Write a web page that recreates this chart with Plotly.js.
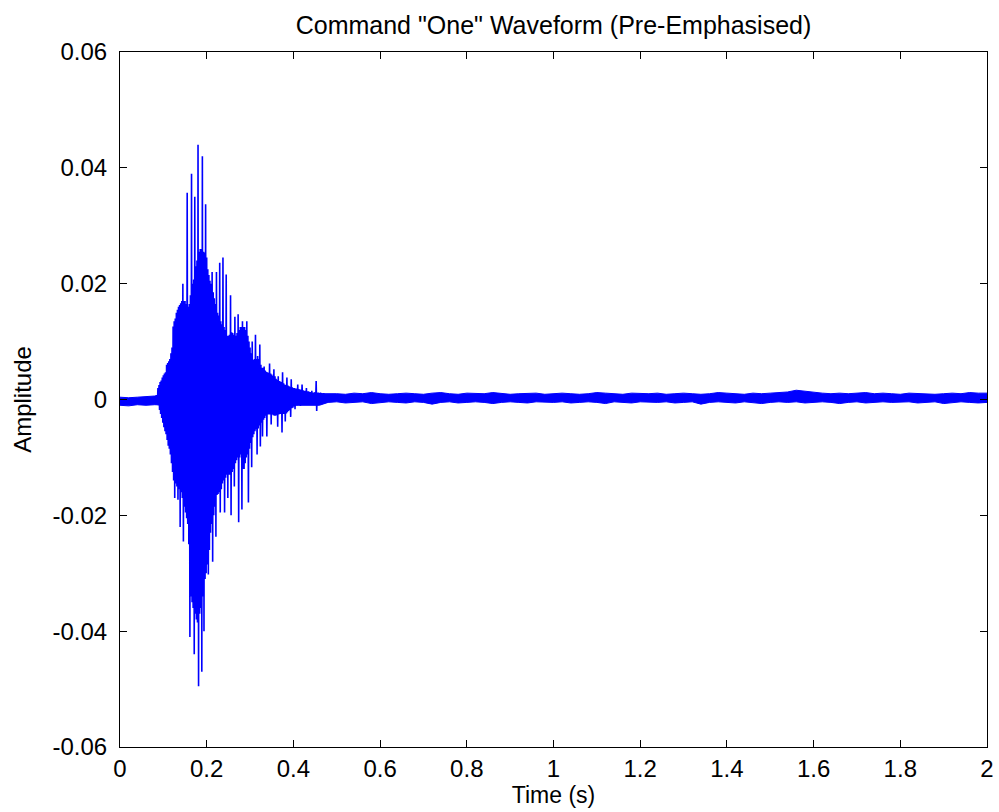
<!DOCTYPE html>
<html>
<head>
<meta charset="utf-8">
<script src="https://cdn.plot.ly/plotly-3.0.1.min.js"></script>
<style>
  html, body { margin: 0; padding: 0; background: #ffffff; }
  #chart { width: 999px; height: 812px; }
</style>
</head>
<body>
<div id="chart"></div>
<script>
// ---- Data (amplitudes in thousandths) ----
// Burst (voiced "One"): sampled every 2.5 ms from 0.08 s; upper / lower excursion per sample
const burstStart = 0.08;
const burstStep = 0.0025;
const burstUpperMilli = [
  0.6, 0.6, 0.6, 2.0, 2.5, 3.0, 3.3, 3.8, 4.2, 4.5,
  4.7, 6.0, 6.3, 6.6, 7.0, 8.0, 9.0, 12.6, 13.5, 14.0,
  15.0, 15.5, 16.0, 16.3, 16.6, 17.0, 20.0, 17.0, 17.0, 16.5,
  35.7, 16.0, 16.5, 18.0, 39.0, 20.0, 20.7, 35.0, 23.0, 24.0,
  44.0, 25.5, 26.0, 26.0, 42.0, 25.5, 25.4, 33.7, 24.5, 22.5,
  21.5, 20.5, 20.0, 22.0, 18.5, 17.5, 16.5, 22.0, 15.0, 14.5,
  23.6, 13.5, 13.0, 24.5, 12.5, 12.0, 21.6, 11.0, 11.0, 11.2,
  18.0, 11.6, 11.5, 11.2, 14.3, 11.0, 11.5, 14.7, 12.0, 12.5,
  12.5, 13.5, 12.5, 12.5, 12.0, 13.5, 11.0, 10.0, 9.0, 8.0,
  10.0, 6.8, 7.0, 11.2, 7.0, 7.5, 7.0, 9.5, 6.0, 5.5,
  5.5, 5.7, 5.0, 4.8, 4.7, 4.6, 6.2, 4.5, 4.3, 4.1,
  5.2, 4.0, 3.6, 3.4, 4.0, 3.2, 3.1, 3.0, 4.7, 2.8,
  2.6, 2.5, 3.8, 2.4, 2.3, 2.2, 3.5, 2.1, 2.0, 2.0,
  1.9, 1.9, 2.6, 1.8, 1.7, 1.7, 2.6, 1.6, 1.5, 1.5,
  2.0, 1.4, 1.4, 1.3, 1.3, 1.5, 1.2, 1.2, 1.3, 3.2,
  1.2, 1.2, 1.1, 1.2, 1.1, 1.0, 1.1
];
const burstLowerMilli = [
  -0.8, -0.8, -0.8, -1.0, -1.8, -2.5, -3.2, -4.0, -4.8, -5.5,
  -6.0, -7.0, -8.0, -8.5, -9.5, -11.0, -12.5, -14.0, -17.0, -14.5,
  -15.0, -17.3, -15.5, -22.0, -16.0, -17.0, -24.5, -18.5, -19.5, -20.5,
  -21.5, -25.0, -41.0, -34.0, -35.0, -36.0, -44.0, -37.0, -38.0, -38.5,
  -49.5, -37.0, -36.0, -47.0, -34.0, -40.0, -31.0, -30.0, -28.5, -30.2,
  -26.0, -23.0, -21.5, -28.0, -20.0, -18.5, -23.7, -16.5, -16.3, -16.0,
  -19.5, -15.5, -14.5, -14.0, -19.5, -13.5, -13.0, -17.0, -13.0, -13.0,
  -20.0, -12.5, -12.0, -15.0, -11.0, -10.5, -10.0, -21.2, -10.0, -9.5,
  -19.0, -12.0, -12.0, -11.0, -10.0, -9.5, -17.8, -8.5, -7.5, -11.7,
  -6.5, -6.0, -5.5, -5.2, -9.5, -5.0, -4.5, -8.1, -4.0, -6.4,
  -3.5, -3.2, -2.8, -6.4, -2.6, -2.6, -2.6, -4.3, -2.6, -2.7,
  -2.8, -2.8, -2.7, -4.7, -2.6, -2.5, -2.5, -5.7, -2.5, -2.5,
  -3.8, -2.4, -2.2, -2.0, -1.8, -3.0, -1.5, -1.4, -1.2, -1.7,
  -1.0, -1.0, -0.9, -0.9, -1.1, -0.8, -0.8, -0.9, -0.8, -0.8,
  -0.9, -0.8, -0.7, -0.8, -0.8, -0.9, -0.7, -0.8, -0.8, -2.0,
  -0.8, -0.7, -0.8, -0.7, -0.6, -0.6, -0.6
];

// Background noise band over the whole 2 s, every 20 ms (upper / lower edge)
const bandStep = 0.02;
const bandUpperMilli = [
  0.4, 0.3, 0.4, 0.5, 0.6,
  1.0, 1.0, 1.0, 1.0, 1.0, 1.0, 1.0, 1.0, 1.0, 1.0,
  1.0, 1.0, 1.0, 1.0, 1.0, 1.0, 1.0, 1.0, 1.0,
  1.1, 1.0, 0.9, 1.1, 1.0, 1.2, 1.0, 0.9, 1.0, 1.1,
  1.0, 0.9, 1.1, 1.2, 1.0, 0.9, 1.1, 1.0, 1.0, 1.2,
  1.1, 0.9, 1.0, 1.0, 1.1, 0.9,
  1.0, 1.1, 1.0, 0.9, 1.0, 1.2, 1.1, 1.0, 0.9, 1.1,
  1.0, 1.0, 1.1, 0.9, 1.0, 1.1, 1.0, 0.9, 1.0, 1.2,
  1.1, 1.0, 0.9, 1.1, 1.0, 1.1, 1.2, 1.3, 1.6, 1.4,
  1.2, 1.1, 1.0, 1.1, 1.0, 1.1, 1.2, 1.0, 1.1, 1.0,
  0.9, 1.1, 1.0, 1.0, 0.9, 1.0, 1.1, 1.0, 1.2, 1.1,
  1.1
];
const bandLowerMilli = [
  -1.0, -1.1, -0.9, -1.0, -0.9,
  -1.0, -1.0, -1.0, -1.0, -1.0, -1.0, -1.0, -1.0, -1.0, -1.0,
  -1.0, -1.0, -1.0, -1.0, -1.0, -1.0, -1.0, -1.0, -1.0,
  -0.5, -0.4, -0.6, -0.5, -0.4, -0.7, -0.5, -0.4, -0.5, -0.6,
  -0.4, -0.5, -0.8, -0.5, -0.4, -0.6, -0.5, -0.4, -0.5, -0.7,
  -0.5, -0.4, -0.5, -0.6, -0.4, -0.5,
  -0.5, -0.4, -0.6, -0.5, -0.4, -0.5, -0.7, -0.4, -0.5, -0.6,
  -0.4, -0.5, -0.5, -0.4, -0.6, -0.5, -0.4, -0.8, -0.5, -0.4,
  -0.5, -0.6, -0.4, -0.5, -0.7, -0.5, -0.4, -0.5, -0.4, -0.6,
  -0.5, -0.4, -0.5, -0.7, -0.5, -0.4, -0.6, -0.5, -0.4, -0.5,
  -0.5, -0.4, -0.6, -0.5, -0.4, -0.7, -0.5, -0.4, -0.5, -0.6,
  -0.5
];

// Axis ticks
const xTickVals = [0, 0.2, 0.4, 0.6, 0.8, 1, 1.2, 1.4, 1.6, 1.8, 2];
const xTickText = ['0', '0.2', '0.4', '0.6', '0.8', '1', '1.2', '1.4', '1.6', '1.8', '2'];
const yTickVals = [-0.06, -0.04, -0.02, 0, 0.02, 0.04, 0.06];
const yTickText = ['-0.06', '-0.04', '-0.02', '0', '0.02', '0.04', '0.06'];

// ---- Build traces ----
const bandT = bandUpperMilli.map((_, i) => +(i * bandStep).toFixed(4));
const bandLower = bandLowerMilli.map(v => v / 1000);
const bandUpper = bandUpperMilli.map(v => v / 1000);

const wx = [], wy = [];
burstUpperMilli.forEach((u, i) => {
  const t = burstStart + i * burstStep;
  wx.push(t); wy.push(u / 1000);
  wx.push(t + burstStep / 2); wy.push(burstLowerMilli[i] / 1000);
});

const blue = '#0000ff';
const traces = [
  { x: bandT, y: bandLower, type: 'scatter', mode: 'lines',
    line: { color: blue, width: 1 }, hoverinfo: 'skip', showlegend: false },
  { x: bandT, y: bandUpper, type: 'scatter', mode: 'lines', fill: 'tonexty',
    fillcolor: blue, line: { color: blue, width: 1 }, hoverinfo: 'skip', showlegend: false },
  { x: wx, y: wy, type: 'scatter', mode: 'lines',
    line: { color: blue, width: 1.6 }, hoverinfo: 'skip', showlegend: false }
];

const fontFam = 'Liberation Sans, Arial, Helvetica, sans-serif';
const axisCommon = {
  showgrid: false, zeroline: false, showline: true, linecolor: '#000', linewidth: 1,
  mirror: 'ticks', ticks: 'inside', ticklen: 7, tickcolor: '#000', tickwidth: 1,
  tickfont: { family: fontFam, size: 24, color: '#000' }, fixedrange: true
};

const layout = {
  width: 999, height: 812,
  margin: { l: 120, r: 12, t: 52, b: 65 },
  paper_bgcolor: '#fff', plot_bgcolor: '#fff',
  showlegend: false,
  title: { text: 'Command "One" Waveform (Pre-Emphasised)', x: 0.5, xref: 'paper',
           y: 1 - 25 / 812, yref: 'container', yanchor: 'middle',
           font: { family: fontFam, size: 25, color: '#000' } },
  xaxis: Object.assign({}, axisCommon, {
    range: [0, 2], tickmode: 'array', tickvals: xTickVals, ticktext: xTickText,
    ticklabelstandoff: 0,
    title: { text: 'Time (s)', standoff: 3, font: { family: fontFam, size: 23, color: '#000' } }
  }),
  yaxis: Object.assign({}, axisCommon, {
    range: [-0.06, 0.06], tickmode: 'array', tickvals: yTickVals, ticktext: yTickText,
    ticklabelstandoff: 7,
    title: { text: 'Amplitude', standoff: 14, font: { family: fontFam, size: 24, color: '#000' } }
  })
};

Plotly.newPlot('chart', traces, layout, { staticPlot: true, displayModeBar: false });
</script>
</body>
</html>
